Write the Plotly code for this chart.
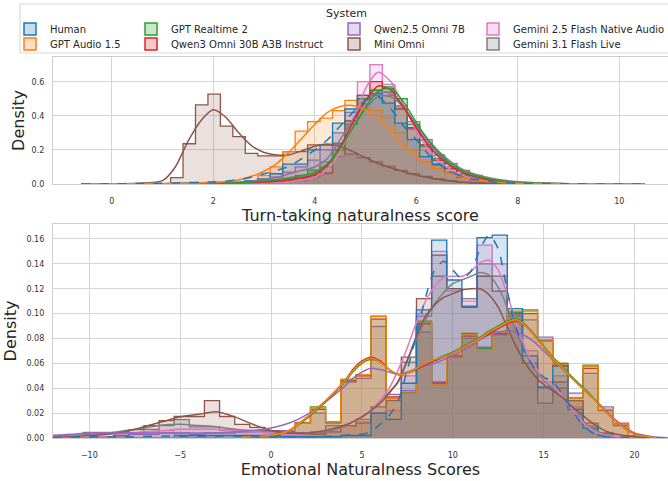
import numpy as np
import plotly.graph_objects as go

# ---------------- systems / colours ----------------
SYSTEMS = ["Human", "GPT Audio 1.5", "GPT Realtime 2", "Qwen3 Omni 30B A3B Instruct",
           "Qwen2.5 Omni 7B", "Mini Omni", "Gemini 2.5 Flash Native Audio", "Gemini 3.1 Flash Live"]
COLORS = ["#1f77b4", "#ff7f0e", "#2ca02c", "#d62728", "#9467bd", "#8c564b", "#e377c2", "#7f7f7f"]

# ---------------- Turn-taking naturalness (top) ----------------
TT_BIN_START = 1.157
TT_BIN_WIDTH = 0.2455
TT_HIST_HUMAN = [0, 0.005, 0.005, 0.01, 0.01, 0.01, 0.02, 0.03, 0.06, 0.117, 0.117, 0.2, 0.23, 0.357, 0.44, 0.52, 0.53, 0.475, 0.357, 0.26, 0.16, 0.113, 0.07, 0.04, 0.025, 0.012, 0.006, 0.003]
TT_HIST_GPTA = [0, 0, 0, 0.003, 0.005, 0.005, 0.02, 0.05, 0.1, 0.19, 0.31, 0.366, 0.387, 0.43, 0.49, 0.44, 0.43, 0.39, 0.3, 0.2, 0.13, 0.09, 0.06, 0.035, 0.02, 0.01, 0.005, 0.002]
TT_HIST_GPTR = [0, 0, 0, 0, 0.003, 0.005, 0.008, 0.01, 0.02, 0.03, 0.05, 0.08, 0.1, 0.2, 0.35, 0.5, 0.55, 0.57, 0.5, 0.35, 0.22, 0.15, 0.1, 0.06, 0.035, 0.02, 0.01, 0.005]
TT_HIST_QWEN3 = [0, 0, 0, 0, 0, 0.003, 0.005, 0.008, 0.015, 0.025, 0.035, 0.05, 0.065, 0.2, 0.37, 0.52, 0.6, 0.56, 0.44, 0.33, 0.23, 0.14, 0.09, 0.05, 0.03, 0.015, 0.006, 0.003]
TT_HIST_QWEN25 = [0, 0, 0, 0.003, 0.005, 0.008, 0.01, 0.02, 0.04, 0.07, 0.1, 0.14, 0.2, 0.3, 0.42, 0.5, 0.55, 0.54, 0.46, 0.33, 0.23, 0.14, 0.09, 0.05, 0.03, 0.015, 0.006, 0.002]
TT_HIST_MINI = [0.037, 0.236, 0.464, 0.527, 0.34, 0.278, 0.18, 0.165, 0.165, 0.19, 0.19, 0.23, 0.23, 0.235, 0.175, 0.155, 0.13, 0.105, 0.08, 0.06, 0.045, 0.03, 0.02, 0.01, 0.005, 0.003, 0.001, 0]
TT_HIST_GEM25 = [0, 0, 0, 0, 0, 0, 0.003, 0.005, 0.008, 0.015, 0.02, 0.04, 0.06, 0.16, 0.35, 0.6, 0.7, 0.585, 0.45, 0.32, 0.2, 0.12, 0.07, 0.04, 0.02, 0.01, 0.005, 0.002]
TT_HIST_GEM31 = [0, 0, 0, 0, 0.003, 0.005, 0.008, 0.01, 0.015, 0.02, 0.04, 0.08, 0.13, 0.24, 0.37, 0.47, 0.52, 0.52, 0.45, 0.366, 0.26, 0.17, 0.12, 0.08, 0.05, 0.03, 0.015, 0.008]

TT_KDE_X = [-0.6, 0.0, 0.5, 1.0, 1.25, 1.5, 1.75, 2.0, 2.25, 2.5, 2.75, 3.0, 3.25, 3.5, 3.75, 4.0,
            4.25, 4.5, 4.75, 5.0, 5.25, 5.5, 5.75, 6.0, 6.25, 6.5, 6.75, 7.0, 7.5, 8.0, 9.0, 10.5]
TT_KDE_HUMAN = [0, 0.001, 0.003, 0.005, 0.006, 0.008, 0.01, 0.012, 0.016, 0.025, 0.04, 0.06, 0.08, 0.105, 0.15, 0.2, 0.26, 0.34, 0.42, 0.49, 0.51, 0.44, 0.34, 0.26, 0.17, 0.105, 0.062, 0.036, 0.012, 0.004, 0.001, 0]
TT_KDE_GPTA = [0, 0.001, 0.002, 0.003, 0.004, 0.005, 0.007, 0.01, 0.015, 0.025, 0.045, 0.075, 0.12, 0.19, 0.27, 0.35, 0.42, 0.455, 0.46, 0.435, 0.38, 0.31, 0.225, 0.16, 0.115, 0.08, 0.052, 0.032, 0.012, 0.004, 0.001, 0]
TT_KDE_GPTR = [0, 0, 0.001, 0.002, 0.003, 0.004, 0.004, 0.005, 0.006, 0.008, 0.012, 0.018, 0.026, 0.037, 0.05, 0.07, 0.12, 0.21, 0.33, 0.45, 0.545, 0.56, 0.48, 0.36, 0.25, 0.165, 0.105, 0.066, 0.026, 0.01, 0.002, 0]
TT_KDE_QWEN3 = [0, 0, 0.001, 0.001, 0.002, 0.002, 0.003, 0.004, 0.005, 0.006, 0.008, 0.011, 0.016, 0.024, 0.035, 0.055, 0.11, 0.22, 0.36, 0.49, 0.575, 0.55, 0.45, 0.33, 0.22, 0.145, 0.092, 0.057, 0.021, 0.007, 0.001, 0]
TT_KDE_QWEN25 = [0, 0, 0.001, 0.002, 0.003, 0.004, 0.005, 0.007, 0.009, 0.012, 0.018, 0.027, 0.04, 0.06, 0.08, 0.1, 0.15, 0.26, 0.38, 0.49, 0.54, 0.53, 0.45, 0.34, 0.235, 0.155, 0.095, 0.056, 0.02, 0.007, 0.001, 0]
TT_KDE_MINI = [0, 0.001, 0.005, 0.02, 0.1, 0.25, 0.37, 0.435, 0.39, 0.3, 0.225, 0.185, 0.17, 0.172, 0.195, 0.222, 0.235, 0.22, 0.19, 0.155, 0.12, 0.095, 0.072, 0.052, 0.037, 0.025, 0.015, 0.009, 0.003, 0.001, 0, 0]
TT_KDE_GEM25 = [0, 0, 0, 0.001, 0.001, 0.001, 0.002, 0.002, 0.003, 0.004, 0.005, 0.007, 0.01, 0.015, 0.025, 0.04, 0.085, 0.19, 0.36, 0.56, 0.655, 0.6, 0.46, 0.31, 0.2, 0.12, 0.072, 0.042, 0.016, 0.007, 0.002, 0.0005]
TT_KDE_GEM31 = [0, 0, 0.001, 0.001, 0.002, 0.002, 0.003, 0.004, 0.005, 0.006, 0.008, 0.011, 0.016, 0.025, 0.04, 0.065, 0.115, 0.21, 0.33, 0.44, 0.515, 0.51, 0.45, 0.35, 0.255, 0.175, 0.115, 0.073, 0.032, 0.013, 0.002, 0]

# ---------------- Emotional naturalness (bottom) ----------------
EM_BIN_START = -12.0
EM_BIN_WIDTH = 0.8333
EM_HIST_HUMAN = [0, 0, 0, 0, 0, 0, 0, 0, 0.002, 0.002, 0.002, 0.002, 0.002, 0.002, 0.002, 0.001, 0.001, 0.001, 0.001, 0.002, 0.002, 0.02, 0.015, 0.044, 0.103, 0.159, 0.127, 0.106, 0.161, 0.163, 0.104, 0.066, 0.041, 0.058, 0.023, 0.008, 0.002, 0, 0, 0]
EM_HIST_GPTA = [0, 0, 0, 0, 0, 0, 0, 0, 0, 0, 0, 0, 0, 0, 0.001, 0.002, 0.012, 0.024, 0.013, 0.047, 0.051, 0.0977, 0.032, 0.036, 0.093, 0.043, 0.067, 0.083, 0.071, 0.085, 0.102, 0.102, 0.079, 0.059, 0.032, 0.0575, 0.0227, 0.0107, 0, 0]
EM_HIST_GPTR = [0, 0, 0, 0, 0, 0, 0, 0, 0, 0, 0, 0, 0, 0, 0.001, 0.002, 0.012, 0.025, 0.013, 0.047, 0.051, 0.098, 0.032, 0.036, 0.094, 0.043, 0.067, 0.084, 0.072, 0.085, 0.101, 0.103, 0.079, 0.06, 0.032, 0.0585, 0.023, 0.011, 0, 0]
EM_HIST_QWEN3 = [0, 0, 0, 0, 0, 0, 0, 0, 0, 0, 0, 0, 0, 0, 0.001, 0.002, 0.012, 0.023, 0.013, 0.046, 0.05, 0.0955, 0.033, 0.036, 0.092, 0.044, 0.066, 0.082, 0.072, 0.084, 0.1, 0.1, 0.078, 0.058, 0.032, 0.056, 0.022, 0.01, 0, 0]
EM_HIST_QWEN25 = [0.002, 0.002, 0.0045, 0.0045, 0.004, 0.003, 0.003, 0.004, 0.004, 0.003, 0.004, 0.004, 0.005, 0.005, 0.005, 0.006, 0.0125, 0.02, 0.012, 0.045, 0.048, 0.0896, 0.035, 0.038, 0.085, 0.045, 0.065, 0.08, 0.073, 0.083, 0.098, 0.095, 0.081, 0.06, 0.036, 0.052, 0.025, 0.012, 0.002, 0]
EM_HIST_MINI = [0, 0, 0, 0, 0.002, 0.0067, 0.01, 0.014, 0.0173, 0.0173, 0.03, 0.0173, 0.011, 0.0085, 0.006, 0.005, 0.004, 0.003, 0.005, 0.01, 0.012, 0.025, 0.03, 0.065, 0.112, 0.147, 0.12, 0.105, 0.13, 0.118, 0.1, 0.06, 0.028, 0.045, 0.03, 0.012, 0.004, 0.001, 0, 0]
EM_HIST_GEM25 = [0, 0, 0, 0.001, 0.002, 0.003, 0.005, 0.006, 0.007, 0.007, 0.007, 0.006, 0.006, 0.005, 0.004, 0.003, 0.003, 0.004, 0.005, 0.01, 0.013, 0.02, 0.022, 0.05, 0.1, 0.15, 0.118, 0.11, 0.155, 0.14, 0.1, 0.07, 0.045, 0.05, 0.025, 0.01, 0.003, 0, 0, 0]
EM_HIST_GEM31 = [0, 0, 0, 0, 0.002, 0.004, 0.007, 0.01, 0.0147, 0.009, 0.009, 0.007, 0.005, 0.006, 0.006, 0.004, 0.004, 0.005, 0.01, 0.01, 0.015, 0.02, 0.032, 0.061, 0.098, 0.13, 0.12, 0.112, 0.14, 0.13, 0.1, 0.06, 0.04, 0.04, 0.03, 0.01, 0.003, 0, 0, 0]

EM_KDE_X = [-12, -11, -10, -9, -8, -7, -6, -5, -4, -3, -2, -1, 0, 1, 2, 3,
            4, 4.5, 5, 5.5, 6, 6.5, 7, 7.5, 8, 8.5, 9, 9.5, 10, 10.5, 11, 11.5, 12, 12.5,
            13, 13.5, 14, 14.5, 15, 15.5, 16, 16.5, 17, 17.5, 18, 18.5, 19, 20, 21, 22]
EM_KDE_HUMAN = [0.0005, 0.0008, 0.001, 0.001, 0.001, 0.0012, 0.0015, 0.0015, 0.0015, 0.0015, 0.0015, 0.0012, 0.001, 0.001, 0.001, 0.0012,
                0.002, 0.003, 0.003, 0.005, 0.011, 0.018, 0.03, 0.055, 0.083, 0.113, 0.135, 0.142, 0.135, 0.128, 0.134, 0.152, 0.163, 0.152,
                0.118, 0.088, 0.068, 0.056, 0.049, 0.045, 0.036, 0.024, 0.013, 0.006, 0.002, 0.001, 0.0005, 0, 0, 0]
EM_KDE_GPTA = [0, 0, 0, 0, 0, 0, 0, 0, 0, 0, 0.0003, 0.001, 0.002, 0.006, 0.017, 0.03,
               0.045, 0.054, 0.061, 0.064, 0.061, 0.055, 0.051, 0.052, 0.056, 0.06, 0.063, 0.065, 0.068, 0.072, 0.076, 0.08, 0.085, 0.089,
               0.093, 0.095, 0.09, 0.082, 0.073, 0.064, 0.057, 0.049, 0.042, 0.035, 0.028, 0.02, 0.013, 0.003, 0.0005, 0]
EM_KDE_GPTR = [0, 0, 0, 0, 0, 0, 0, 0, 0, 0, 0.0003, 0.001, 0.002, 0.006, 0.016, 0.029,
               0.044, 0.053, 0.06, 0.063, 0.061, 0.055, 0.051, 0.052, 0.056, 0.06, 0.063, 0.066, 0.069, 0.073, 0.077, 0.081, 0.086, 0.09,
               0.094, 0.096, 0.091, 0.083, 0.074, 0.065, 0.058, 0.05, 0.043, 0.036, 0.028, 0.02, 0.013, 0.003, 0.0005, 0]
EM_KDE_QWEN3 = [0, 0, 0, 0, 0, 0, 0, 0, 0, 0, 0.0003, 0.001, 0.002, 0.006, 0.017, 0.03,
                0.045, 0.055, 0.062, 0.065, 0.062, 0.055, 0.051, 0.052, 0.055, 0.059, 0.062, 0.065, 0.068, 0.072, 0.076, 0.08, 0.084, 0.088,
                0.092, 0.094, 0.09, 0.082, 0.073, 0.064, 0.057, 0.049, 0.042, 0.035, 0.028, 0.02, 0.013, 0.003, 0.0005, 0]
EM_KDE_QWEN25 = [0.002, 0.003, 0.004, 0.004, 0.004, 0.004, 0.004, 0.004, 0.004, 0.004, 0.005, 0.006, 0.008, 0.012, 0.019, 0.029,
                 0.041, 0.048, 0.053, 0.056, 0.055, 0.053, 0.051, 0.053, 0.056, 0.058, 0.06, 0.063, 0.066, 0.07, 0.074, 0.079, 0.083, 0.085,
                 0.086, 0.085, 0.082, 0.077, 0.07, 0.063, 0.056, 0.049, 0.042, 0.035, 0.028, 0.021, 0.014, 0.004, 0.001, 0]
EM_KDE_MINI = [0.0005, 0.001, 0.002, 0.003, 0.005, 0.009, 0.013, 0.017, 0.019, 0.021, 0.017, 0.011, 0.006, 0.004, 0.004, 0.006,
               0.01, 0.013, 0.017, 0.022, 0.028, 0.036, 0.046, 0.063, 0.082, 0.098, 0.107, 0.113, 0.116, 0.119, 0.12, 0.12, 0.115, 0.105,
               0.089, 0.073, 0.06, 0.05, 0.043, 0.038, 0.033, 0.026, 0.02, 0.014, 0.009, 0.005, 0.003, 0.001, 0, 0]
EM_KDE_GEM25 = [0.001, 0.0015, 0.002, 0.003, 0.004, 0.005, 0.006, 0.007, 0.007, 0.007, 0.006, 0.005, 0.004, 0.003, 0.004, 0.006,
                0.01, 0.013, 0.017, 0.022, 0.03, 0.04, 0.055, 0.073, 0.093, 0.11, 0.122, 0.129, 0.13, 0.13, 0.134, 0.141, 0.143, 0.135,
                0.115, 0.092, 0.072, 0.058, 0.048, 0.042, 0.034, 0.024, 0.015, 0.008, 0.004, 0.002, 0.001, 0, 0, 0]
EM_KDE_GEM31 = [0.001, 0.002, 0.003, 0.004, 0.006, 0.008, 0.0105, 0.011, 0.01, 0.009, 0.007, 0.006, 0.005, 0.004, 0.004, 0.005,
                0.009, 0.013, 0.017, 0.022, 0.03, 0.037, 0.045, 0.062, 0.08, 0.095, 0.108, 0.117, 0.124, 0.127, 0.13, 0.133, 0.131, 0.121,
                0.105, 0.085, 0.068, 0.055, 0.046, 0.04, 0.033, 0.024, 0.016, 0.009, 0.005, 0.002, 0.001, 0, 0, 0]

# ---------------- ticks ----------------
TT_XTICKS = [0, 2, 4, 6, 8, 10]
TT_YTICKS = [0.0, 0.2, 0.4, 0.6]
EM_XTICKS = [-10, -5, 0, 5, 10, 15, 20]
EM_YTICKS = [0.0, 0.02, 0.04, 0.06, 0.08, 0.10, 0.12, 0.14, 0.16]

TT_HISTS = [TT_HIST_HUMAN, TT_HIST_GPTA, TT_HIST_GPTR, TT_HIST_QWEN3, TT_HIST_QWEN25, TT_HIST_MINI, TT_HIST_GEM25, TT_HIST_GEM31]
TT_KDES = [TT_KDE_HUMAN, TT_KDE_GPTA, TT_KDE_GPTR, TT_KDE_QWEN3, TT_KDE_QWEN25, TT_KDE_MINI, TT_KDE_GEM25, TT_KDE_GEM31]
EM_HISTS = [EM_HIST_HUMAN, EM_HIST_GPTA, EM_HIST_GPTR, EM_HIST_QWEN3, EM_HIST_QWEN25, EM_HIST_MINI, EM_HIST_GEM25, EM_HIST_GEM31]
EM_KDES = [EM_KDE_HUMAN, EM_KDE_GPTA, EM_KDE_GPTR, EM_KDE_QWEN3, EM_KDE_QWEN25, EM_KDE_MINI, EM_KDE_GEM25, EM_KDE_GEM31]

W, H = 668, 481
ML, MR, MT, MB = 53, 0, 57, 43
PW, PH = W - ML - MR, H - MT - MB


def px_x(px):
    return (px - ML) / PW


def px_y(py):
    return (H - MB - py) / PH


def rgba(hexc, a):
    h = hexc.lstrip("#")
    return "rgba(%d,%d,%d,%.3f)" % (int(h[0:2], 16), int(h[2:4], 16), int(h[4:6], 16), a)


def step_xy(start, width, vals):
    edges = start + width * np.arange(len(vals) + 1)
    xs = [edges[0]] + list(edges[:-1]) + [edges[-1], edges[-1]]
    ys = [0] + list(vals) + [vals[-1], 0]
    return xs, ys


fig = go.Figure()

# seaborn layers hue levels in reverse order: the first system ends up on top
DRAW_ORDER = list(range(len(SYSTEMS)))[::-1]

panels = [
    ("x", "y", TT_BIN_START, TT_BIN_WIDTH, TT_HISTS, TT_KDE_X, TT_KDES),
    ("x2", "y2", EM_BIN_START, EM_BIN_WIDTH, EM_HISTS, EM_KDE_X, EM_KDES),
]
for xa, ya, b0, bw, hists, kx, kdes in panels:
    for i in DRAW_ORDER:
        xs, ys = step_xy(b0, bw, hists[i])
        fig.add_trace(go.Scatter(x=xs, y=ys, mode="lines", line=dict(color=COLORS[i], width=1.3, shape="hv"),
                                 fill="tozeroy", fillcolor=rgba(COLORS[i], 0.18), xaxis=xa, yaxis=ya,
                                 showlegend=False, hoverinfo="skip"))
    for i in DRAW_ORDER:
        fig.add_trace(go.Scatter(x=kx, y=kdes[i], mode="lines",
                                 line=dict(color=COLORS[i], width=1.5, shape="spline", smoothing=0.7,
                                           dash="dash" if i == 0 else "solid"),
                                 xaxis=xa, yaxis=ya, showlegend=False, hoverinfo="skip"))

# legend: one legend per entry so the columns sit where the reference puts them
LEG_TEXT_X = [52, 52, 173, 173, 376, 376, 515, 515]
LEG_ROW_Y = [29, 44, 29, 44, 29, 44, 29, 44]
legend_layouts = {}
for k in range(len(SYSTEMS)):
    lname = "legend" if k == 0 else "legend%d" % (k + 1)
    fig.add_trace(go.Bar(x=[None], y=[None], name=SYSTEMS[k], legend=lname,
                         marker=dict(color=rgba(COLORS[k], 0.25), line=dict(color=COLORS[k], width=1.5)),
                         showlegend=True))
    legend_layouts[lname] = dict(x=px_x(LEG_TEXT_X[k] - 42), y=px_y(LEG_ROW_Y[k]), xanchor="left", yanchor="middle",
                                 bgcolor="rgba(0,0,0,0)", borderwidth=0, font=dict(size=10, color="#262626"),
                                 itemwidth=30, tracegroupgap=0)

axis_common = dict(showgrid=True, gridcolor="#d5d5d5", gridwidth=1.1, zeroline=False, showline=True,
                   linecolor="#cccccc", linewidth=1.2, mirror=True, ticks="outside", tickcolor="rgba(0,0,0,0)",
                   tickfont=dict(size=8, color="#333333"))

fig.update_layout(
    width=W, height=H, margin=dict(l=ML, r=MR, t=MT, b=MB, autoexpand=False),
    paper_bgcolor="white", plot_bgcolor="white",
    font=dict(family="DejaVu Sans", color="#262626"),
    barmode="overlay",
    xaxis=dict(axis_common, domain=[0, 1], anchor="y", range=[-1.16, 10.96], tickvals=TT_XTICKS,
               ticktext=[str(v) for v in TT_XTICKS], ticklen=9,
               title=dict(text="Turn-taking naturalness score", font=dict(size=16), standoff=4)),
    yaxis=dict(axis_common, domain=[px_y(184), 1], anchor="x", range=[0, 0.745], tickvals=TT_YTICKS,
               ticktext=["%.1f" % v for v in TT_YTICKS], ticklen=6,
               title=dict(text="Density", font=dict(size=16), standoff=2)),
    xaxis2=dict(axis_common, domain=[0, 1], anchor="y2", range=[-12.0, 21.84], tickvals=EM_XTICKS,
                ticktext=[str(v).replace("-", "\u2212") for v in EM_XTICKS], ticklen=9,
                title=dict(text="Emotional Naturalness Scores", font=dict(size=16), standoff=4)),
    yaxis2=dict(axis_common, domain=[0, px_y(224)], anchor="x2", range=[0, 0.172], tickvals=EM_YTICKS,
                ticktext=["%.2f" % v for v in EM_YTICKS], ticklen=6,
                title=dict(text="Density", font=dict(size=16), standoff=5)),
    showlegend=True,
    **legend_layouts,
)

# legend frame and title
fig.add_shape(type="rect", xref="paper", yref="paper", x0=px_x(20), x1=px_x(700), y0=px_y(53), y1=px_y(4),
              line=dict(color="#d9d9d9", width=1.2), fillcolor="rgba(255,255,255,0.85)", layer="below")
fig.add_annotation(text="System", xref="paper", yref="paper", x=px_x(346), y=px_y(13), showarrow=False,
                   font=dict(size=11, color="#262626"), xanchor="center", yanchor="middle")

# the page's default 8px body margin would shift the whole figure; remove it
fig.write_html("out.html", config={"displayModeBar": False},
               post_script="document.body.style.margin='0px';document.body.style.overflow='hidden';")
